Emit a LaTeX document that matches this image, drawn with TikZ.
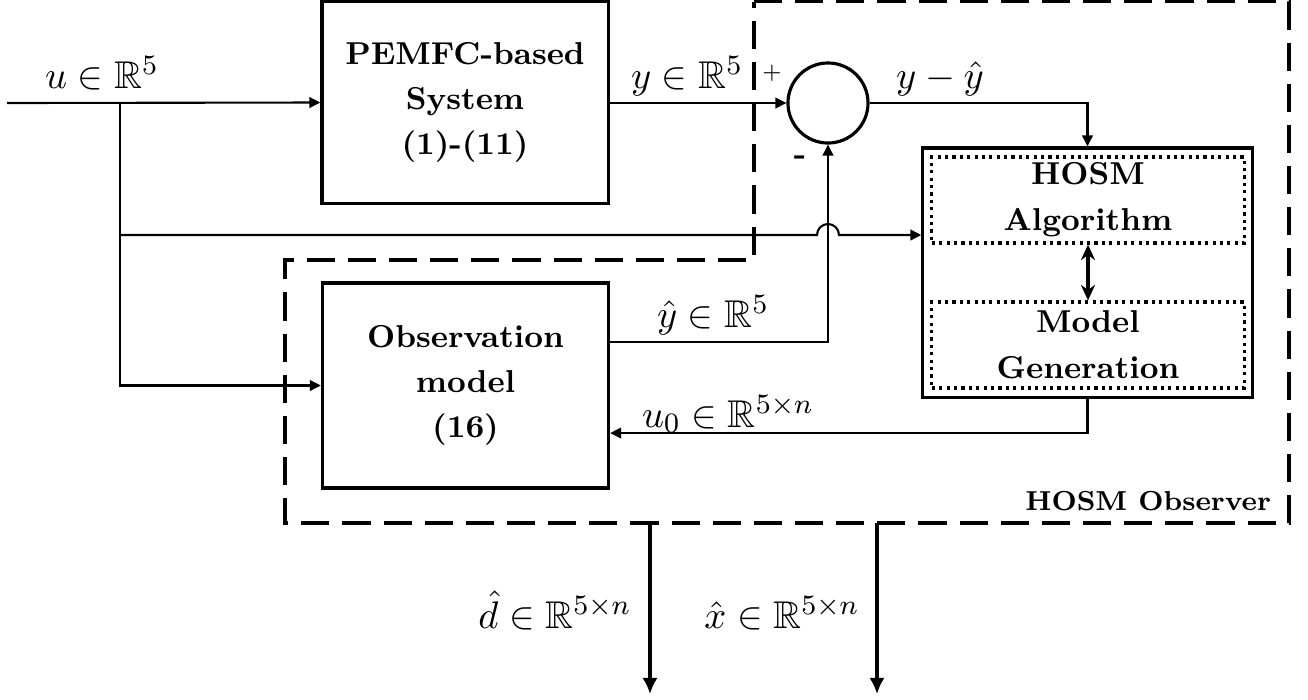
\documentclass[tikz,border=0pt]{standalone}
\usepackage{amssymb}
\usepackage{fontspec}
\usetikzlibrary{arrows.meta,calc}

\begin{document}
\begin{tikzpicture}[
  x=0.01cm, y=-0.01cm,
  >={Triangle[length=3.1pt,width=3pt]},
  line width=0.6pt,
  blk/.style={draw, line width=0.9pt, minimum width=2.86cm, align=center, inner sep=0pt, font=\fontsize{9}{12.8}\selectfont\bfseries},
  sub/.style={draw, line width=0.9pt, dash pattern=on 0.9pt off 1.2pt, minimum width=3.12cm, minimum height=0.86cm, align=center, inner sep=0pt, font=\fontsize{9}{13.1}\selectfont\bfseries},
  lbl/.style={anchor=base, inner sep=0pt, font=\fontsize{11}{13}\selectfont},
  outarr/.style={-{Latex[length=4.6pt,width=4.4pt]}, line width=1.15pt}
]
\useasboundingbox (0,0) rectangle (1308,699);

\draw[line width=1pt, dash pattern=on 8pt off 3.7pt] (754,1.5) -- (1289,1.5) -- (1289,523) -- (285,523) -- (285,260) -- (754,260) -- cycle;
\node[anchor=base east, inner sep=0pt, font=\fontsize{7.8}{9}\selectfont\bfseries] (obslbl) at (1272,510) {HOSM Observer};

\node[blk, minimum height=2.015cm] (pemfc) at (465,102.5) {PEMFC-based\\System\\(1)-(11)};
\node[blk, minimum height=2.05cm] (obs) at (465.5,385.5) {Observation\\model\\(16)};
\node[draw, circle, line width=0.9pt, minimum size=0.8cm, inner sep=0pt] (sum) at (828,103) {};
\node[draw, line width=0.9pt, minimum width=3.29cm, minimum height=2.49cm] (hosm) at (1087.5,272.5) {};
\node[sub] (algo) at (1088,200) {HOSM\\Algorithm};
\node[sub] (gen) at (1088,345) {Model\\Generation};

\coordinate (in) at (7,103);
\coordinate (br) at (120,103);
\coordinate (br2) at (120,235);
\draw[->] (in) -- (pemfc.west);
\draw[->] (br) |- (obs.west);
\draw[->] (br2) -- (817,235) arc[start angle=180, end angle=360, radius=11] -- (hosm.west |- br2);
\draw[->] (pemfc.east |- sum) -- (sum.west);
\draw[->] (sum.east) -| (hosm.north);
\draw[->] ([yshift=0.435cm]obs.east) -| (sum.south);
\draw[->] (hosm.south) |- ([yshift=-0.475cm]obs.east);
\draw[{Stealth[length=4.4pt,width=4pt]}-{Stealth[length=4.4pt,width=4pt]}, line width=1.1pt] (algo.south) -- (gen.north);

\node[lbl] (ulbl) at (102,88) {$u\in\mathbb{R}^5$};
\node[lbl] (ylbl) at (687,88) {$y\in\mathbb{R}^5$};
\node[lbl] (elbl) at (940,88) {$y-\hat{y}$};
\node[lbl] (yhlbl) at (713,327) {$\hat{y}\in\mathbb{R}^5$};
\node[lbl] (u0lbl) at (728,427) {$u_0\in\mathbb{R}^{5\times n}$};
\node[inner sep=0pt, font=\fontsize{6}{7}\selectfont] (plus) at (772,73) {$+$};
\node[inner sep=0pt, font=\fontsize{9}{10}\selectfont\bfseries] (minus) at (800,160) {-};

\coordinate (dh0) at (650,523);
\coordinate (dh1) at (650,694);
\coordinate (xh0) at (877,523);
\coordinate (xh1) at (877,694);
\draw[outarr] (dh0) -- (dh1);
\draw[outarr] (xh0) -- (xh1);
\node[lbl] (dhlbl) at (555,628) {$\hat{d}\in\mathbb{R}^{5\times n}$};
\node[lbl] (xhlbl) at (782,628) {$\hat{x}\in\mathbb{R}^{5\times n}$};
\end{tikzpicture}
\end{document}
